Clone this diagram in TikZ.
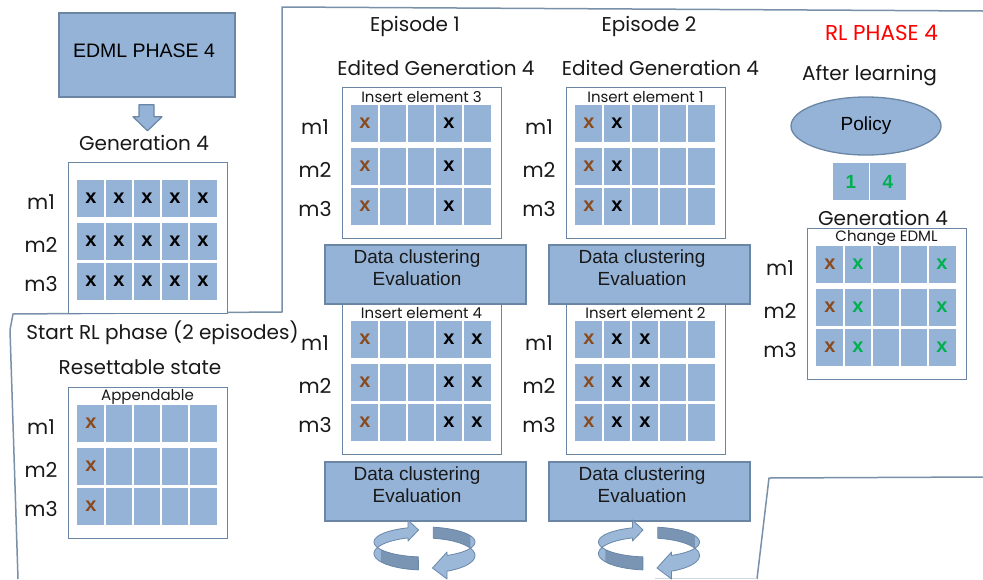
\documentclass[tikz,border=0pt]{standalone}
\usepackage{fontspec}
\setmainfont{Liberation Sans}
\newfontfamily\geofont{Poppins}
\usetikzlibrary{shapes.geometric,calc}

\definecolor{cellblue}{HTML}{95B3D7}
\definecolor{boxedge}{HTML}{6A86A4}
\definecolor{frameline}{HTML}{7890A8}
\definecolor{xbrown}{HTML}{8B4A1C}
\definecolor{xgreen}{HTML}{00B050}
\definecolor{ringlight}{HTML}{9BB8D8}
\definecolor{ringdark}{HTML}{7A95B3}
\definecolor{ringedge}{HTML}{6A87A8}

\tikzset{
  geotext/.style={font=\geofont\fontsize{20}{22}\selectfont, inner sep=0pt, text=black!90},
  rowlabel/.style={font=\geofont\fontsize{20.5}{22}\selectfont, inner sep=0pt, text=black!90},
  boxcaption/.style={font=\geofont\fontsize{15}{17}\selectfont, inner sep=0pt, text=black!90},
  gridbox/.style={draw=boxedge, line width=1.3pt, fill=white, inner sep=0pt},
  bluebox/.style={draw=boxedge, line width=1.6pt, fill=cellblue, inner sep=0pt},
  sanstext/.style={font=\fontsize{19}{22}\selectfont, inner sep=0pt, text=black!90, align=center},
  xmark/.style={font=\bfseries\fontsize{20}{20}\selectfont, inner sep=0pt},
  frame/.style={draw=frameline, line width=1.5pt, line join=round},
}

% a white-framed 3x5 table of blue cells with row labels m1..m3
\newcommand\cellgrid[4]{%
  \node[gridbox, anchor=north west, minimum width=159pt, minimum height=151pt] (#1) at (#2,#3) {};
  \foreach \off in {18,61,101} \fill[cellblue] ({#2+9},{#3+\off}) rectangle ++(140,37);
  \foreach \c in {1,...,4} \draw[white, line width=2pt] ({#2+9+28*\c},{#3+17}) -- ++(0,122);
  \node[boxcaption] (#1-cap) at ({#2+79.5},{#3+10}) {#4};
  \node[rowlabel] (#1-m1) at ({#2-27},{#3+40}) {m1};
  \node[rowlabel] (#1-m2) at ({#2-27},{#3+83}) {m2};
  \node[rowlabel] (#1-m3) at ({#2-27},{#3+122}) {m3};
}
% marks "x" in the cells: list of column/row/colour
\newcommand\gridmarks[4]{%
  \foreach \c/\r/\col in {#4}
    \node[xmark, text=\col] (#1-x\c\r) at ({#2+9+28*\c-14},{#3+36.5+43*(\r-1)-3*(\r>2)}) {x};
}
% two ribbon arrows running round an ellipse (ribbon seen from slightly above)
\newcommand\ringarrows[2]{%
  \begin{scope}[shift={(#1,#2)}]
    % left ribbon: front, round the left side, to the back
    \fill[ringlight] plot[domain=97:251,samples=40] ({50.5*cos(\x)},{15*sin(\x)})
      -- (-16.5,-22) -- (-6,-12) -- (-16.5,-1) -- (-16.5,{-14.2+11.5-1.42})
      -- plot[domain=251:97,samples=40] ({50.5*cos(\x)},{15*sin(\x)+11.5+1.5*sin(\x)}) -- cycle;
    \fill[ringdark] plot[domain=97:150,samples=20] ({50.5*cos(\x)},{15*sin(\x)})
      -- plot[domain=150:97,samples=20] ({50.5*cos(\x)},{15*sin(\x)+11.5+1.5*sin(\x)}) -- cycle;
    \draw[ringedge, line width=0.8pt, line join=round]
      plot[domain=97:251,samples=40] ({50.5*cos(\x)},{15*sin(\x)})
      -- (-16.5,-22) -- (-6,-12) -- (-16.5,-1) -- (-16.5,{-14.2+11.5-1.42})
      -- plot[domain=251:97,samples=40] ({50.5*cos(\x)},{15*sin(\x)+11.5+1.5*sin(\x)}) -- cycle;
    % right ribbon: back, round the right side, to the front
    \fill[ringlight] plot[domain=280:423.5,samples=40] ({50.5*cos(\x)},{15*sin(\x)})
      -- (22.5,10) -- (8,26) -- (22.5,37) -- (22.5,{13.4+13.5+2.24})
      -- plot[domain=423.5:280,samples=40] ({50.5*cos(\x)},{15*sin(\x)+13.5+2.5*sin(\x)}) -- cycle;
    \fill[ringdark] plot[domain=280:335,samples=20] ({50.5*cos(\x)},{15*sin(\x)})
      -- plot[domain=335:280,samples=20] ({50.5*cos(\x)},{15*sin(\x)+13.5+2.5*sin(\x)}) -- cycle;
    \draw[ringedge, line width=0.8pt, line join=round]
      plot[domain=280:423.5,samples=40] ({50.5*cos(\x)},{15*sin(\x)})
      -- (22.5,10) -- (8,26) -- (22.5,37) -- (22.5,{13.4+13.5+2.24})
      -- plot[domain=423.5:280,samples=40] ({50.5*cos(\x)},{15*sin(\x)+13.5+2.5*sin(\x)}) -- cycle;
  \end{scope}
}

\begin{document}
\begin{tikzpicture}[x=1pt, y=-1pt]
\useasboundingbox (0,0) rectangle (983,579);
\fill[white] (0,0) rectangle (983,579);

% phase frames
\draw[frame] (18,579) -- (10,330) -- (13,314) -- (282,312) -- (282,7) -- (983,11);
\draw[frame] (757,579) -- (769,478) -- (983,477);
\draw[frameline!35, line width=1pt] (655,578) -- (757,578);

% EDML phase
\node[bluebox, minimum width=176pt, minimum height=84pt] (edml) at (147,55) {};
\node[font=\fontsize{19.5}{22}\selectfont, inner sep=0pt] (edmltext) at (144,51) {EDML PHASE 4};
\fill[cellblue, draw=boxedge, line width=1.2pt, line join=round]
  ($(edml.south)+(-8,7)$) -- ++(15,0) -- ++(0,12) -- ++(8,0) -- ++(-14.5,14) -- ++(-14.5,-14) -- ++(6,0) -- cycle;
\node[geotext] (gen4) at (144,143) {Generation 4};
\cellgrid{g}{68}{162}{}
\gridmarks{g}{68}{162}{1/1/black,2/1/black,3/1/black,4/1/black,5/1/black,
  1/2/black,2/2/black,3/2/black,4/2/black,5/2/black,
  1/3/black,2/3/black,3/3/black,4/3/black,5/3/black}

% start of the RL phase
\node[geotext] (start) at (162.5,333) {Start RL phase (2 episodes)};
\node[geotext] (reset) at (140,367) {Resettable state};
\cellgrid{r}{68}{387}{Appendable}
\gridmarks{r}{68}{387}{1/1/xbrown,1/2/xbrown,1/3/xbrown}

% episode 1
\node[geotext] (ep1) at (415,26) {Episode 1};
\node[geotext] (ed1) at (436,68) {Edited Generation 4};
\cellgrid{e1a}{342}{87}{Insert element 3}
\gridmarks{e1a}{342}{87}{1/1/xbrown,1/2/xbrown,1/3/xbrown,4/1/black,4/2/black,4/3/black}
\cellgrid{e1b}{342}{303}{Insert element 4}
\gridmarks{e1b}{342}{303}{1/1/xbrown,1/2/xbrown,1/3/xbrown,4/1/black,4/2/black,4/3/black,
  5/1/black,5/2/black,5/3/black}
\node[bluebox, minimum width=201pt, minimum height=59pt] (dc1a) at (425.5,274.5) {};
\node[sanstext] (dc1atext) at (417,268) {Data clustering\\Evaluation};
\node[bluebox, minimum width=201pt, minimum height=59pt] (dc1b) at (425.5,491.5) {};
\node[sanstext] (dc1btext) at (417,485) {Data clustering\\Evaluation};
\ringarrows{424.5}{542}

% episode 2
\node[geotext] (ep2) at (649,26) {Episode 2};
\node[geotext] (ed2) at (660.5,68) {Edited Generation 4};
\cellgrid{e2a}{566}{87}{Insert element 1}
\gridmarks{e2a}{566}{87}{1/1/xbrown,1/2/xbrown,1/3/xbrown,2/1/black,2/2/black,2/3/black}
\cellgrid{e2b}{566}{303}{Insert element 2}
\gridmarks{e2b}{566}{303}{1/1/xbrown,1/2/xbrown,1/3/xbrown,2/1/black,2/2/black,2/3/black,
  3/1/black,3/2/black,3/3/black}
\node[bluebox, minimum width=201pt, minimum height=59pt] (dc2a) at (649.5,274.5) {};
\node[sanstext] (dc2atext) at (642,268) {Data clustering\\Evaluation};
\node[bluebox, minimum width=201pt, minimum height=59pt] (dc2b) at (649.5,491.5) {};
\node[sanstext] (dc2btext) at (642,485) {Data clustering\\Evaluation};
\ringarrows{649}{542}

% RL phase result
\node[font=\geofont\fontsize{21.5}{24}\selectfont, inner sep=0pt, text=red] (rl) at (881.5,33) {RL PHASE 4};
\node[geotext] (after) at (869.5,76) {After learning};
\node[ellipse, draw=boxedge, fill=cellblue, line width=1.3pt, minimum width=150pt,
  minimum height=58pt, inner sep=0pt, font=\fontsize{19}{22}\selectfont] (policy) at (866,126) {Policy};
\node[fill=cellblue, minimum width=36pt, minimum height=37pt, inner sep=0pt, text=xgreen,
  font=\bfseries\fontsize{19}{22}\selectfont] (act1) at (851,181.5) {1};
\node[fill=cellblue, minimum width=36pt, minimum height=37pt, inner sep=0pt, text=xgreen,
  font=\bfseries\fontsize{19}{22}\selectfont] (act4) at (888,181.5) {4};
\node[geotext] (gen4r) at (883,218) {Generation 4};
\cellgrid{f}{807}{228}{Change EDML}
\gridmarks{f}{807}{228}{1/1/xbrown,1/2/xbrown,1/3/xbrown,2/1/xgreen,2/2/xgreen,2/3/xgreen,
  5/1/xgreen,5/2/xgreen,5/3/xgreen}
\end{tikzpicture}
\end{document}
